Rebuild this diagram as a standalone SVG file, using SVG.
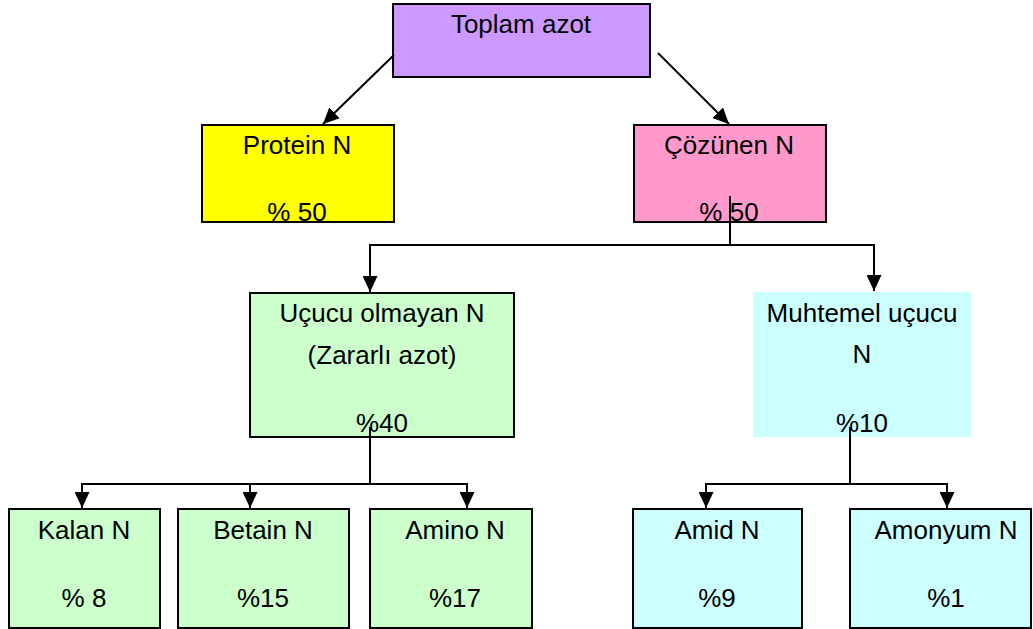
<svg xmlns="http://www.w3.org/2000/svg" width="1033" height="629" viewBox="0 0 1033 629">
<style>
  text { font-family: "Liberation Sans", Arial, sans-serif; font-size: 26px; fill: #000; text-anchor: middle; }
  .box { stroke: #000; stroke-width: 2; }
  .conn { stroke: #000; stroke-width: 2; fill: none; }
</style>
<defs>
  <marker id="arr" markerUnits="userSpaceOnUse" markerWidth="16" markerHeight="15" refX="16" refY="7.5" orient="auto">
    <path d="M0,0 L16,7.5 L0,15 z" fill="#000"/>
  </marker>
  <clipPath id="clipProtein"><rect x="202" y="125" width="192" height="97"/></clipPath>
  <clipPath id="clipCoz"><rect x="634" y="125" width="192" height="97"/></clipPath>
</defs>
<rect width="1033" height="629" fill="#fff"/>

<g id="toplam">
  <rect class="box" x="393" y="4" width="257" height="73" fill="#CC99FF"/>
  <text x="521" y="33">Toplam azot</text>
</g>
<g id="protein">
  <rect class="box" x="202" y="125" width="192" height="97" fill="#FFFF00"/>
  <text x="297" y="154">Protein N</text>
  <text x="297" y="221" clip-path="url(#clipProtein)">% 50</text>
</g>
<g id="cozunen">
  <rect class="box" x="634" y="125" width="192" height="97" fill="#FF99CC"/>
  <text x="729" y="154">Çözünen N</text>
  <text x="729" y="221" clip-path="url(#clipCoz)">% 50</text>
</g>
<g id="ucucu-olmayan">
  <rect class="box" x="250" y="293" width="264" height="144" fill="#CCFFCC"/>
  <text x="382" y="322">Uçucu olmayan N</text>
  <text x="382" y="364">(Zararlı azot)</text>
  <text x="382" y="432">%40</text>
</g>
<g id="muhtemel">
  <rect x="753" y="292" width="218" height="145" fill="#CCFFFF"/>
  <text x="862" y="322">Muhtemel uçucu</text>
  <text x="862" y="363">N</text>
  <text x="862" y="432">%10</text>
</g>
<g id="kalan">
  <rect class="box" x="9" y="509" width="151" height="119" fill="#CCFFCC"/>
  <text x="84" y="539">Kalan N</text>
  <text x="84" y="607">% 8</text>
</g>
<g id="betain">
  <rect class="box" x="178" y="509" width="171" height="119" fill="#CCFFCC"/>
  <text x="263" y="539">Betain N</text>
  <text x="263" y="607">%15</text>
</g>
<g id="amino">
  <rect class="box" x="370" y="509" width="162" height="119" fill="#CCFFCC"/>
  <text x="455" y="539">Amino N</text>
  <text x="455" y="607">%17</text>
</g>
<g id="amid">
  <rect class="box" x="633" y="509" width="169" height="119" fill="#CCFFFF"/>
  <text x="717" y="539">Amid N</text>
  <text x="717" y="607">%9</text>
</g>
<g id="amonyum">
  <rect class="box" x="850" y="509" width="181" height="119" fill="#CCFFFF"/>
  <text x="946" y="539">Amonyum N</text>
  <text x="946" y="607">%1</text>
</g>

<g id="connectors">
  <line class="conn" x1="394" y1="55" x2="323" y2="124" marker-end="url(#arr)"/>
  <line class="conn" x1="658" y1="53" x2="729" y2="124" marker-end="url(#arr)"/>
  <path class="conn" d="M730,196 V245"/>
  <path class="conn" d="M730,245 H370 V292" marker-end="url(#arr)"/>
  <path class="conn" d="M730,245 H874 V291" marker-end="url(#arr)"/>
  <path class="conn" d="M370,427 V484"/>
  <path class="conn" d="M370,484 H82 V508" marker-end="url(#arr)"/>
  <path class="conn" d="M370,484 H250 V508" marker-end="url(#arr)"/>
  <path class="conn" d="M370,484 H467 V508" marker-end="url(#arr)"/>
  <path class="conn" d="M850,427 V484"/>
  <path class="conn" d="M850,484 H706 V508" marker-end="url(#arr)"/>
  <path class="conn" d="M850,484 H947 V508" marker-end="url(#arr)"/>
</g>
</svg>
